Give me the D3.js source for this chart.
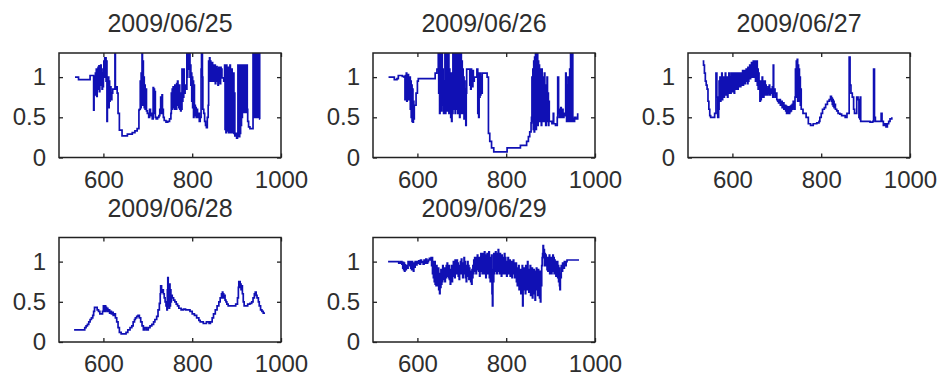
<!DOCTYPE html>
<html>
  <head>
    <meta http-equiv="Content-Type" content="text/html; charset=UTF-8">
    <style type="text/css">
      body { margin: 0; background: #fff; }
      text {
        font-family: 'Liberation Sans', Arial, sans-serif;
        fill: #2e2e2e;
      }
    </style>
  </head>

  <body>
    <div id="canvas"></div>
    <script type="text/javascript" src="https://d3js.org/d3.v7.min.js"></script>
    <script type="text/javascript">
    // ratio per minute of the day, one panel per date

    var dates = ['2009/06/25', '2009/06/26', '2009/06/27', '2009/06/28', '2009/06/29'];
    var xTicks = [600, 800, 1000];
    var yTicks = [0, 0.5, 1];

    var day0625 = [
      [536,1.00],[544,0.97],[570,1.02],[578,0.59],[579,1.00],
      [581,0.78],[582,1.05],[583,0.80],[584,1.10],[585,0.76],[586,1.02],[587,0.85],[588,1.12],[589,0.90],[590,1.14],[591,0.82],[592,1.05],
      [593,0.90],[594,1.15],[595,0.95],[596,1.10],[597,0.85],[598,1.00],[599,0.88],[600,1.05],
      [601,1.20],[602,1.00],[603,1.24],[604,1.10],[605,1.24],[606,0.95],[607,1.20],[608,0.45],[609,0.90],
      [610,0.70],[611,1.00],[612,0.62],[613,0.95],[614,0.70],[615,0.88],[617,0.72],[619,0.80],[621,0.85],
      [625,0.85],[626,1.40],[627,0.85],[629,0.88],[631,0.80],[633,0.55],[636,0.34],[642,0.27],[654,0.29],[665,0.31],[671,0.33],[676,0.36],[680,0.59],
      [681,0.60],[683,0.95],[684,0.62],[685,1.05],[686,0.65],[687,1.40],[688,0.70],[689,1.20],[690,0.65],[691,1.00],[692,0.62],[693,0.90],[694,0.60],[695,0.85],[697,0.58],
      [699,0.55],[702,0.50],[704,0.60],[706,0.52],[708,0.55],[710,0.48],[712,0.87],[713,0.55],[714,0.85],[715,0.60],[716,0.82],[717,0.50],[719,0.48],
      [722,0.50],[725,0.52],[727,0.60],[729,0.75],[730,0.55],[732,0.78],[733,0.60],[735,0.50],
      [737,0.46],[741,0.44],[745,0.45],[749,0.48],
      [752,0.55],[753,0.80],[754,0.60],[755,0.85],[756,0.62],[757,0.88],[758,0.65],[759,0.80],[760,0.60],[761,0.90],[762,0.65],[763,0.85],[764,0.60],[765,0.92],[766,0.70],[767,0.95],[768,0.65],[769,0.85],[770,0.62],[771,0.90],[772,0.60],[773,0.80],[774,0.58],[775,0.75],[776,0.60],
      [777,1.10],[778,0.70],[779,1.05],[780,0.75],[781,1.10],[782,0.80],[784,0.90],[786,0.85],
      [788,1.30],[789,1.00],[790,1.40],[791,1.10],[792,1.40],[793,1.20],[794,1.40],[795,1.00],[796,1.15],[797,0.90],[798,1.05],
      [799,0.70],[800,1.00],[801,0.62],[802,0.95],[803,0.50],[804,0.90],[805,0.55],[806,0.65],[807,0.52],[808,0.62],[809,0.50],[810,0.60],[812,0.50],[814,0.55],[816,0.45],
      [818,0.50],[820,1.10],[821,1.40],[823,1.00],[824,0.60],
      [826,0.55],[828,0.45],[830,0.40],[832,0.37],[834,0.50],[836,0.65],
      [837,1.20],[838,1.00],[839,1.24],[840,0.95],[841,1.20],[842,1.00],[843,1.15],[844,0.95],[845,1.18],[846,1.00],
      [847,1.15],[848,0.95],[849,1.12],[850,1.00],[851,1.15],[852,0.92],[853,1.10],[854,1.00],[855,1.13],[856,0.95],[857,1.10],[858,0.90],[859,1.05],[860,1.12],[861,0.95],[862,1.10],[863,0.92],[864,1.12],[865,1.00],[866,1.10],[867,0.99],[869,0.99],[871,0.95],
      [873,1.15],[874,0.35],[875,1.10],[876,0.31],[877,1.15],[878,0.40],[879,1.05],[880,0.33],[881,1.12],[882,0.31],[883,1.00],[884,0.35],[885,1.15],[886,0.31],[887,0.95],[888,0.33],[889,1.10],[890,0.31],[891,0.90],[892,0.35],[893,1.05],[894,0.30],[895,0.80],
      [896,0.27],[898,0.30],[900,0.24],[902,0.27],[903,1.15],[904,0.30],[905,1.10],[906,0.26],[907,1.15],[908,0.30],[909,1.12],[910,0.40],[911,1.15],[912,0.50],[913,1.10],
      [914,0.56],[915,1.15],[916,0.60],[917,1.12],[918,0.56],[919,1.15],[920,0.65],[921,1.10],[922,0.56],[923,1.15],[924,0.60],
      [925,0.45],[927,0.38],[930,0.36],[936,0.36],
      [937,1.40],[938,0.50],[939,1.40],[940,0.55],[941,1.40],[942,0.50],[943,1.40],[944,0.52],[945,1.40],[946,0.50],[947,1.40],[948,0.55],[949,1.40],[950,0.50],[951,1.40],[952,0.48],[953,0.48]
    ];

    var day0626 = [
      [535,1.00],[546,1.00],[548,0.97],[554,0.98],[557,1.02],[566,1.01],[570,1.00],
      [572,0.72],[573,1.02],[574,0.75],[575,1.05],[576,0.70],[577,1.00],[578,0.78],[579,1.03],[580,0.72],[581,0.98],[582,0.80],
      [583,1.00],[584,0.60],[585,0.95],[586,0.50],[587,0.90],[588,0.45],[589,0.85],[590,0.44],[591,0.70],[592,0.48],[593,0.65],
      [595,0.65],[597,0.80],[600,0.95],[602,0.98],[636,0.98],[640,1.05],[644,1.10],[647,1.40],
      [648,0.80],[649,1.40],[650,0.55],[651,1.30],[652,0.60],[653,1.20],[654,0.58],[655,1.40],[656,0.65],[657,1.10],
      [658,0.95],[659,0.55],[660,0.90],[661,0.60],[662,1.40],[663,0.55],[664,1.40],[665,0.65],[666,1.40],[667,0.58],[668,1.30],[669,0.70],[670,1.40],[671,0.55],[672,1.10],[673,0.60],[674,1.00],[675,0.50],[676,1.05],[677,0.45],[678,0.95],[679,0.55],
      [680,1.40],[681,0.60],[682,1.40],[683,0.65],[684,1.40],[685,0.55],[686,1.40],[687,0.70],[688,1.40],[689,0.60],[690,1.40],[691,0.55],[692,1.40],[693,0.65],[694,1.40],[695,0.50],[696,1.30],[697,0.60],[698,1.40],[699,0.55],
      [700,1.20],[701,0.65],[702,1.10],[703,0.55],[704,1.00],[705,0.48],[706,0.95],[707,0.50],[708,0.85],[709,0.40],[710,0.80],
      [711,1.10],[716,1.10],[718,0.90],[719,1.08],[720,0.85],[721,1.10],[722,0.90],[723,1.05],[724,0.88],[725,1.08],[726,0.95],[728,1.00],
      [730,1.00],[734,1.10],[736,0.55],[737,1.05],[738,0.50],[739,1.00],[740,0.75],[741,1.05],[742,0.78],[743,1.00],[744,0.80],[746,1.05],
      [750,1.05],[757,1.00],[760,0.30],[763,0.20],[767,0.12],[772,0.07],[801,0.07],[802,0.12],[831,0.12],[832,0.15],[843,0.15],[846,0.20],[850,0.26],[853,0.32],[856,0.43],
      [857,0.50],[858,1.00],[859,0.45],[860,1.10],[861,0.35],[862,1.20],[863,0.32],[864,1.25],[865,0.40],[866,1.40],[867,0.35],[868,1.40],[869,0.45],[870,1.40],[871,0.40],[872,1.20],[873,0.50],[874,1.15],[875,0.45],[876,1.10],[877,0.55],[878,1.05],
      [879,0.40],[880,1.10],[881,0.50],[882,1.00],[883,0.45],[884,0.95],[885,0.60],[886,1.05],[887,0.45],[888,0.90],[889,0.40],[890,0.85],[891,0.55],[892,1.00],[893,0.45],[894,0.80],[895,0.40],[896,0.70],[897,0.45],
      [899,0.45],[903,0.42],[906,0.55],[907,0.42],[911,0.40],
      [915,0.50],[916,1.00],[918,0.55],[920,0.50],
      [921,0.60],[922,0.50],[923,0.62],[924,0.50],[925,0.58],[926,0.52],[927,0.60],[928,0.50],[930,0.55],[932,0.52],[934,1.05],[935,0.55],
      [936,0.45],[937,0.90],[938,0.50],[939,1.00],[940,0.45],[941,0.95],[942,0.50],[943,1.10],[944,0.45],[945,1.40],[946,0.50],[947,1.40],[948,0.45],[949,1.40],[950,0.48],
      [951,0.45],[954,0.50],[957,0.48],[961,0.55]
    ];

    var day0627 = [
      [533,1.20],[535,1.15],[537,1.05],[539,0.95],[541,0.90],[543,0.85],[545,0.70],[547,0.60],[549,0.52],[551,0.50],[556,0.50],[560,0.55],
      [563,1.05],[565,0.75],[567,0.50],[569,0.60],
      [570,0.95],[571,0.75],[572,1.00],[573,0.70],[574,0.95],[575,0.80],[576,1.05],[577,0.72],[578,0.90],[579,0.80],[580,1.00],[581,0.75],[582,0.95],[583,0.85],[584,1.05],[585,0.78],[586,0.95],[587,0.80],[588,1.00],[589,0.75],[590,0.90],[591,0.82],[592,1.05],[593,0.80],
      [595,1.00],[596,0.80],[597,1.05],[598,0.85],[599,1.00],[600,0.82],[601,1.05],[602,0.85],[603,0.98],[604,0.80],[605,1.05],[606,0.88],[607,1.00],[608,0.85],[609,1.05],[610,0.90],[611,1.00],[612,0.85],[613,1.05],[614,0.88],[615,1.02],
      [616,0.90],[617,1.05],[618,0.88],[619,1.00],[620,0.90],[621,1.05],[622,0.92],[623,1.08],[624,0.90],[625,1.05],[626,0.95],[627,1.08],[628,0.92],[629,1.05],[630,0.95],[631,1.10],
      [632,0.95],[633,1.10],[634,0.92],[635,1.12],[636,0.95],[637,1.10],[638,1.00],[639,1.15],[640,0.98],[641,1.12],[642,1.05],[643,1.18],[644,1.00],[645,1.15],[646,1.05],[647,1.20],[648,1.00],[649,1.15],[650,1.05],[651,1.20],[652,0.95],[653,1.18],[654,1.00],[655,1.20],[656,0.90],[657,1.10],[658,0.85],[659,1.05],[660,0.90],
      [662,0.70],[663,0.95],[664,0.72],[665,0.90],[666,0.75],[667,1.00],[668,0.80],[669,0.90],[670,0.75],[671,0.95],[672,0.85],[673,0.95],[674,0.78],[675,0.90],[676,0.80],
      [677,0.85],[678,0.78],[680,0.88],[681,0.80],[683,0.90],[684,0.78],[686,0.85],[688,0.80],[690,0.88],[691,0.75],[692,1.15],[693,0.80],[694,0.85],[696,0.75],[698,0.80],[700,0.72],
      [702,0.70],[704,0.68],[706,0.72],[708,0.65],[710,0.70],[712,0.62],[714,0.68],[716,0.60],[718,0.65],[720,0.58],[721,0.64],[722,0.55],[723,0.62],[724,0.55],[725,0.63],[726,0.56],[727,0.62],[728,0.55],[729,0.63],[730,0.57],[731,0.64],[732,0.58],[733,0.65],[734,0.60],[735,0.66],[736,0.62],
      [737,0.70],[739,0.60],[741,0.75],[742,1.10],[743,0.75],[744,1.20],[745,0.80],[746,1.22],[747,0.70],[748,1.15],[749,0.75],[750,1.10],[751,0.70],[752,1.00],[753,0.65],[754,0.85],[755,0.60],
      [757,0.60],[759,0.55],[763,0.55],[766,0.50],[769,0.50],[771,0.42],[776,0.40],[782,0.42],[790,0.43],[795,0.45],
      [797,0.50],[800,0.55],[803,0.60],[807,0.62],[810,0.66],[814,0.70],[818,0.72],[821,0.76],[823,0.70],[824,0.74],[825,0.66],[826,0.72],[827,0.64],[828,0.70],[829,0.62],[830,0.66],[832,0.60],[835,0.58],[838,0.55],[842,0.54],[846,0.52],[850,0.52],[854,0.50],[858,0.55],
      [861,0.55],[863,1.25],[865,0.90],[867,0.80],[870,0.75],[873,0.60],[875,0.55],[878,0.55],[880,0.75],[883,0.72],[885,0.50],[887,0.48],[888,0.75],[889,0.45],
      [891,0.45],[900,0.45],[910,0.44],[916,0.45],
      [918,1.10],[920,0.50],[922,0.45],[928,0.45],
      [932,0.45],[935,0.55],[937,0.45],[940,0.40],[943,0.42],[946,0.38],[949,0.42],[952,0.45],[955,0.48],[959,0.50]
    ];

    var day0628 = [
      [534,0.15],[555,0.15],[558,0.18],[561,0.20],[564,0.22],[567,0.25],[570,0.28],[573,0.30],[576,0.33],[578,0.38],[580,0.43],[583,0.43],[586,0.40],[589,0.38],[592,0.35],[595,0.35],[598,0.38],
      [600,0.45],[601,0.38],[602,0.44],[603,0.40],[604,0.45],[605,0.38],[606,0.43],[607,0.40],[608,0.42],[610,0.38],
      [612,0.40],[614,0.36],[616,0.38],[618,0.35],[620,0.37],[622,0.33],[625,0.35],[627,0.30],[630,0.25],[633,0.18],[636,0.12],[640,0.10],[648,0.10],[651,0.12],[655,0.15],[660,0.18],
      [664,0.20],[667,0.25],[670,0.28],[672,0.30],[675,0.32],[678,0.33],[681,0.30],[684,0.25],[687,0.20],[690,0.15],[693,0.18],[697,0.15],[701,0.18],[705,0.20],[709,0.22],[713,0.25],[716,0.28],
      [720,0.32],[723,0.40],[726,0.48],[728,0.60],[729,0.70],[731,0.62],[733,0.65],[735,0.60],[737,0.55],[739,0.50],[741,0.45],[743,0.40],
      [744,0.65],[745,0.80],[746,0.45],[747,0.70],[748,0.42],[749,0.72],[750,0.45],[751,0.65],[752,0.50],[753,0.58],[755,0.55],[758,0.52],[761,0.50],[764,0.47],[767,0.45],[770,0.42],
      [775,0.40],[780,0.41],[785,0.40],[790,0.40],[795,0.38],[800,0.35],[805,0.33],[810,0.30],[815,0.27],[818,0.25],[825,0.23],[832,0.25],[838,0.23],[841,0.25],[845,0.30],[848,0.35],[852,0.40],[856,0.45],[860,0.50],[863,0.55],
      [866,0.60],[867,0.55],[868,0.62],[869,0.56],[870,0.60],[871,0.55],[872,0.58],[874,0.52],[876,0.50],[878,0.47],[881,0.45],[885,0.45],[892,0.45],[898,0.47],[902,0.55],
      [904,0.68],[905,0.75],[906,0.70],[907,0.75],[908,0.68],[909,0.72],[910,0.65],[911,0.70],[913,0.60],[915,0.50],[917,0.45],[920,0.45],[925,0.47],[930,0.48],[934,0.50],
      [937,0.55],[940,0.60],[942,0.62],[944,0.58],[946,0.55],[949,0.50],[951,0.45],[954,0.40],[957,0.38],[960,0.36],[964,0.36]
    ];

    var day0629 = [
      [534,1.00],[555,1.00],[558,0.98],[562,1.00],[565,0.97],
      [567,0.92],[568,0.99],[569,0.90],[570,0.98],[571,0.88],[572,0.96],[573,0.90],[575,0.95],[577,0.92],[579,1.00],[581,0.97],
      [583,0.95],[584,1.00],[585,0.92],[586,0.98],[587,0.90],[588,1.00],[589,0.95],[591,0.88],[592,0.98],[593,0.93],[595,1.00],[597,0.96],[599,1.00],[601,0.98],[603,1.01],[605,0.97],[607,1.02],[609,0.99],
      [611,1.00],[613,0.97],[615,1.02],[617,0.98],[619,1.03],[621,0.98],[623,1.00],[625,1.02],[627,1.04],[629,1.02],[631,1.05],[632,0.95],
      [633,1.05],[634,0.85],[635,1.00],[636,0.80],[637,0.95],[638,0.75],[639,1.00],[640,0.72],[641,0.90],[642,0.70],[643,0.95],[644,0.78],[645,0.88],[646,0.70],[647,0.92],[648,0.65],[649,0.85],[650,0.60],
      [651,0.82],[652,0.68],[653,0.90],[654,0.72],[655,0.85],[656,0.75],[657,0.95],[658,0.78],[659,0.88],[660,0.80],[661,0.92],[662,0.75],[663,0.90],[664,0.80],[665,0.95],[666,0.82],[667,0.98],[668,0.85],[669,0.93],[670,0.80],
      [671,0.95],[672,0.78],[673,0.90],[674,0.72],[675,0.88],[676,0.80],[677,0.95],[678,0.75],[679,0.90],[680,0.82],[681,1.00],[682,0.85],[683,0.95],[684,0.80],[685,1.02],[686,0.85],[687,0.98],[688,0.88],[689,1.02],[690,0.85],
      [691,0.98],[692,0.82],[693,0.95],[694,0.78],[695,0.92],[696,0.85],[697,1.00],[698,0.88],[699,1.03],[700,0.85],[701,0.98],[702,0.80],[703,0.95],[704,0.88],[705,1.05],[706,0.85],[707,1.00],[708,0.80],[709,0.95],[710,0.75],
      [711,0.90],[712,0.82],[713,1.00],[714,0.85],[715,0.95],[716,0.78],[717,0.92],[718,0.80],[719,0.88],[720,0.75],[721,0.85],[722,0.72],[723,0.90],[724,0.80],[725,0.95],[726,0.85],[727,1.02],[728,0.90],[729,1.05],[730,0.88],
      [731,1.00],[732,0.85],[733,1.05],[734,0.90],[735,1.08],[736,0.92],[737,1.05],[738,0.88],[739,1.00],[740,0.82],[741,1.05],[742,0.90],[743,1.10],[744,0.88],[745,1.05],[746,0.85],[747,1.10],[748,0.92],[749,1.05],[750,0.85],
      [751,1.12],[752,0.90],[753,1.08],[754,0.80],[755,1.05],[756,0.88],[757,1.10],[758,0.85],[759,1.05],[760,0.90],[761,1.12],[762,0.80],[763,1.05],[764,0.75],[765,1.00],[766,0.82],[767,1.08],[768,0.60],[769,0.45],[770,0.90],
      [771,0.75],[772,1.10],[773,0.85],[774,1.05],[775,0.88],[776,1.12],[777,0.90],[778,1.08],[779,0.85],[780,1.10],[781,0.92],[782,1.15],[783,0.88],[784,1.05],[785,0.85],[786,1.10],[787,0.90],[788,1.05],[789,0.82],[790,1.08],
      [791,0.88],[792,1.00],[793,0.85],[794,1.05],[795,0.90],[796,1.10],[797,0.85],[798,1.05],[799,0.88],[800,1.00],[801,0.82],[802,0.95],[803,0.88],[804,1.05],[805,0.85],[806,1.00],[807,0.90],[808,1.02],[809,0.82],[810,0.98],
      [811,0.85],[812,1.00],[813,0.80],[814,0.95],[815,0.85],[816,1.02],[817,0.88],[818,0.98],[819,0.80],[820,0.95],[821,0.85],[822,0.98],[823,0.75],[824,0.92],[825,0.70],[826,0.88],[827,0.78],[828,0.95],[829,0.65],[830,0.85],
      [831,0.72],[832,0.90],[833,0.60],[834,0.88],[835,0.70],[836,0.95],[837,0.45],[838,0.80],[839,0.65],[840,0.92],[841,0.70],[842,0.85],[843,0.60],[844,0.95],[845,0.72],[846,0.88],[847,0.65],[848,1.00],[849,0.70],[850,0.90],
      [851,0.62],[852,0.85],[853,0.75],[854,0.95],[855,0.58],[856,0.88],[857,0.70],[858,0.92],[859,0.55],[860,0.85],[861,0.68],[862,0.90],[863,0.60],[864,0.82],[865,0.52],[866,0.88],[867,0.65],[868,0.92],[869,0.70],[870,0.85],
      [871,0.58],[872,0.90],[873,0.65],[874,0.80],[875,0.55],[876,0.88],[877,0.50],[878,0.80],[879,0.70],[880,0.95],[881,1.05],[882,1.10],[883,1.20],[884,1.05],[885,1.15],[886,0.95],[887,1.10],[888,1.00],[889,1.08],[890,0.95],
      [891,1.05],[892,0.90],[893,1.05],[894,0.88],[895,1.02],[896,0.92],[897,1.08],[898,0.85],[899,1.00],[900,0.90],[901,1.05],[902,0.85],[903,1.00],[904,0.88],[905,1.08],[906,0.90],[907,1.05],[908,0.85],[909,1.02],[910,0.90],
      [911,1.00],[912,0.82],[913,0.98],[914,0.85],[915,1.00],[916,0.80],[917,0.95],[918,0.75],[919,0.92],[920,0.70],[921,0.65],[922,0.85],[923,0.80],[924,0.95],[925,0.88],[927,0.98],[929,0.92],[931,1.00],[933,0.95],[935,1.00],
      [937,1.02],[964,1.02]
    ];

    var series = [day0625, day0626, day0627, day0628, day0629];

    var width = 942, height = 381;
    var plotW = 222, plotH = 104.5;
    var colLeft = [59, 373, 688];
    var rowTop = [53, 237.5];

    var svg = d3.select('#canvas').append('svg')
      .attr('width', width)
      .attr('height', height);

    svg.append('rect')
      .attr('width', width).attr('height', height)
      .attr('fill', '#fff');

    var x = d3.scaleLinear().domain([500, 1000]).range([0, plotW]);
    var y = d3.scaleLinear().domain([0, 1.3]).range([plotH, 0]);

    var line = d3.line()
      .curve(d3.curveStepAfter)
      .x(function (d) { return x(d[0]); })
      .y(function (d) { return y(d[1]); });

    function drawPanel(i) {
      var left = colLeft[i % 3];
      var top = rowTop[Math.floor(i / 3)];
      var g = svg.append('g').attr('transform', 'translate(' + left + ',' + top + ')');

      g.append('clipPath').attr('id', 'clip' + i)
        .append('rect').attr('width', plotW).attr('height', plotH);

      g.append('path')
        .datum(series[i])
        .attr('clip-path', 'url(#clip' + i + ')')
        .attr('fill', 'none')
        .attr('stroke', '#1010b4')
        .attr('stroke-width', 1.7)
        .attr('d', line);

      // ticks point inwards on all four sides, labels only bottom/left
      var bottom = d3.axisBottom(x).tickValues(xTicks).tickFormat(d3.format('d')).tickSizeInner(-4).tickSizeOuter(0).tickPadding(13);
      var leftAx = d3.axisLeft(y).tickValues(yTicks).tickFormat(d3.format('')).tickSizeInner(-4).tickSizeOuter(0).tickPadding(13);
      var topAx = d3.axisTop(x).tickValues(xTicks).tickFormat('').tickSizeInner(-4).tickSizeOuter(0);
      var rightAx = d3.axisRight(y).tickValues(yTicks).tickFormat('').tickSizeInner(-4).tickSizeOuter(0);

      var axes = [
        g.append('g').attr('transform', 'translate(0,' + plotH + ')').call(bottom),
        g.append('g').call(leftAx),
        g.append('g').call(topAx),
        g.append('g').attr('transform', 'translate(' + plotW + ',0)').call(rightAx)
      ];
      axes.forEach(function (a) {
        a.select('.domain').remove();
        a.selectAll('line').attr('stroke', '#222').attr('stroke-width', 1.3);
        a.selectAll('text').attr('font-size', 24).attr('fill', '#2e2e2e')
          .attr('font-family', "'Liberation Sans', Arial, sans-serif");
      });

      g.append('rect')
        .attr('width', plotW).attr('height', plotH)
        .attr('fill', 'none')
        .attr('stroke', '#222')
        .attr('stroke-width', 1.5);

      g.append('text')
        .attr('x', plotW / 2)
        .attr('y', -21)
        .attr('text-anchor', 'middle')
        .attr('font-size', 25)
        .text(dates[i]);
    }

    for (var i = 0; i < series.length; i++) {
      drawPanel(i);
    }

    </script>
  </body>
</html>
